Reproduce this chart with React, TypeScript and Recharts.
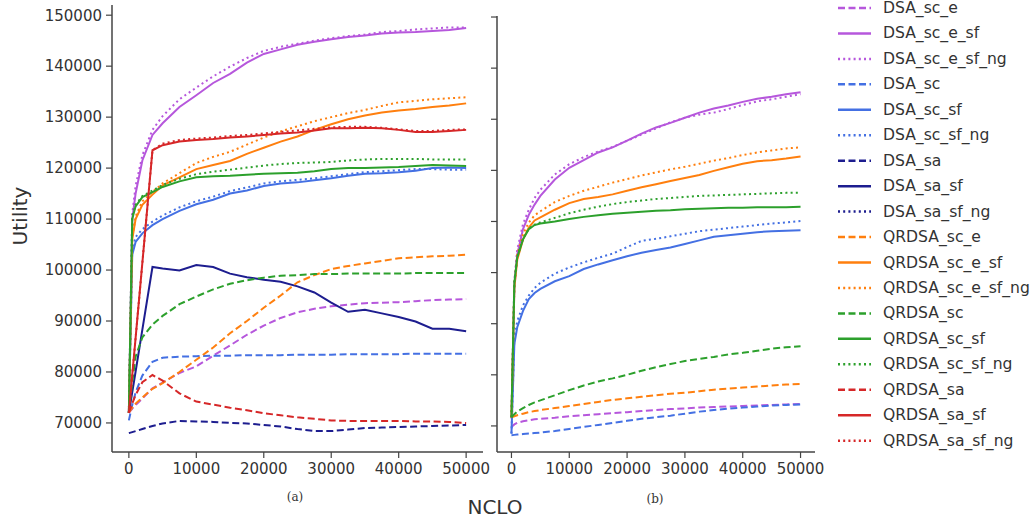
import React from 'react';
import { LineChart, Line, XAxis, YAxis } from 'recharts';

// legend / series names
const NAMES = [
  'DSA_sc_e', 'DSA_sc_e_sf', 'DSA_sc_e_sf_ng',
  'DSA_sc', 'DSA_sc_sf', 'DSA_sc_sf_ng',
  'DSA_sa', 'DSA_sa_sf', 'DSA_sa_sf_ng',
  'QRDSA_sc_e', 'QRDSA_sc_e_sf', 'QRDSA_sc_e_sf_ng',
  'QRDSA_sc', 'QRDSA_sc_sf', 'QRDSA_sc_sf_ng',
  'QRDSA_sa', 'QRDSA_sa_sf', 'QRDSA_sa_sf_ng',
];

const X_TICKS = [0, 10000, 20000, 30000, 40000, 50000];
const Y_TICKS = [70000, 80000, 90000, 100000, 110000, 120000, 130000, 140000, 150000];

// panel (a)
const tA = [0, 500, 1000, 2000, 3500, 5000, 7500, 10000, 12500, 15000, 17500, 20000, 22500, 25000, 27500, 30000, 32500, 35000, 37500, 40000, 42500, 45000, 47500, 50000];
const aScE = [72000, 72800, 73500, 74800, 76800, 77900, 79800, 81100, 83200, 85200, 87300, 89100, 90600, 91700, 92400, 92900, 93200, 93500, 93600, 93700, 93900, 94100, 94200, 94300];
const aScESf = [72000, 110000, 115000, 121500, 126500, 128800, 132000, 134300, 136700, 138500, 140700, 142400, 143300, 144200, 144800, 145300, 145700, 146000, 146400, 146600, 146700, 146900, 147100, 147500];
const aScESfNg = [72000, 111000, 116500, 122500, 127500, 130200, 133500, 135800, 138000, 139900, 141600, 143000, 143800, 144400, 145000, 145500, 145900, 146200, 146700, 146900, 147200, 147400, 147600, 147600];
const aSc = [70500, 73500, 76000, 79300, 82000, 82800, 83000, 83100, 83200, 83200, 83300, 83300, 83300, 83400, 83400, 83400, 83500, 83500, 83500, 83500, 83600, 83600, 83600, 83600];
const aScSf = [72000, 103000, 105500, 107200, 108800, 110000, 111600, 112900, 113800, 115000, 115600, 116500, 117000, 117200, 117600, 118000, 118500, 118900, 119000, 119200, 119500, 120000, 120100, 120000];
const aScSfNg = [72000, 104000, 106500, 108000, 109500, 110700, 112300, 113500, 114400, 115500, 116200, 117000, 117400, 117700, 118000, 118400, 118800, 119200, 119400, 119600, 119800, 119800, 119700, 119700];
const aSa = [68000, 68200, 68400, 68800, 69400, 69900, 70400, 70300, 70200, 70000, 69900, 69600, 69300, 68800, 68400, 68400, 68700, 69000, 69100, 69200, 69300, 69400, 69500, 69600];
const aSaSf = [72000, 76000, 80100, 88300, 100600, 100300, 99900, 101000, 100600, 99300, 98600, 98100, 97700, 96800, 95600, 93600, 91800, 92200, 91500, 90800, 89900, 88500, 88500, 88000];
const aQScE = [72000, 73000, 73800, 75000, 76700, 77800, 80000, 82400, 84800, 87600, 90000, 92600, 95000, 97600, 99000, 100200, 100800, 101300, 101800, 102300, 102500, 102700, 102800, 103000];
const aQScESf = [72000, 106000, 110000, 112800, 114800, 116600, 118200, 119800, 120600, 121400, 122800, 124000, 125200, 126200, 127500, 128600, 129600, 130300, 130900, 131300, 131600, 132000, 132300, 132700];
const aQScESfNg = [72000, 106500, 110500, 113500, 115300, 117000, 119000, 121000, 122200, 123200, 124600, 126000, 127200, 128200, 129200, 130000, 130800, 131400, 132200, 132900, 133200, 133500, 133700, 133900];
const aQSc = [72000, 78000, 83000, 86800, 89300, 91000, 93300, 94800, 96200, 97300, 98000, 98500, 98900, 99000, 99200, 99200, 99300, 99300, 99300, 99300, 99400, 99400, 99400, 99400];
const aQScSf = [72000, 110000, 112500, 114300, 115300, 116300, 117400, 118200, 118400, 118500, 118700, 118900, 119000, 119100, 119400, 119800, 120000, 120000, 120100, 120200, 120400, 120600, 120500, 120400];
const aQScSfNg = [72000, 110500, 112800, 114500, 115600, 116700, 117900, 118800, 119300, 119700, 120100, 120500, 120800, 121000, 121100, 121200, 121500, 121700, 121800, 121800, 121800, 121700, 121700, 121700];
const aQSa = [72000, 73800, 75500, 78000, 79400, 78300, 75800, 74200, 73600, 73000, 72500, 71900, 71500, 71100, 70800, 70500, 70400, 70400, 70400, 70400, 70300, 70300, 70200, 70000];
const aQSaSf = [72000, 79400, 86700, 101400, 123500, 124500, 125200, 125500, 125700, 126000, 126200, 126500, 126800, 127000, 127400, 127800, 127800, 127900, 127800, 127500, 127100, 127100, 127300, 127500];
const aQSaSfNg = [72000, 79400, 86700, 101400, 123500, 124800, 125500, 125800, 126000, 126300, 126500, 126800, 127100, 127400, 127700, 128000, 128100, 128100, 127900, 127600, 127300, 127300, 127500, 127600];

// panel (b)
const tB = [0, 500, 1000, 2000, 3000, 4000, 5000, 7500, 10000, 12500, 15000, 17500, 20000, 22500, 25000, 27500, 30000, 32500, 35000, 37500, 40000, 42500, 45000, 47500, 50000];
const bScE = [69800, 70300, 70600, 70900, 71100, 71300, 71400, 71600, 71900, 72100, 72300, 72500, 72700, 72900, 73100, 73300, 73400, 73600, 73700, 73800, 73900, 74000, 74100, 74200, 74300];
const bScESf = [71500, 97000, 103500, 108500, 111300, 113300, 115000, 118200, 120500, 122000, 123500, 124500, 125800, 127200, 128400, 129300, 130300, 131300, 132100, 132700, 133400, 134000, 134400, 134900, 135300];
const bScESfNg = [71500, 98500, 104500, 109500, 112300, 114600, 116200, 119200, 121200, 122600, 123700, 124600, 125800, 127000, 128200, 129400, 130300, 130900, 131300, 132000, 132800, 133500, 133900, 134400, 134900];
const bSc = [68200, 68250, 68300, 68400, 68500, 68600, 68700, 69000, 69400, 69800, 70200, 70600, 71000, 71400, 71700, 72000, 72400, 72800, 73100, 73400, 73600, 73800, 74000, 74100, 74200];
const bScSf = [68500, 86000, 89300, 92500, 94800, 96000, 96800, 98300, 99300, 100700, 101600, 102400, 103200, 103900, 104400, 104900, 105600, 106300, 107000, 107300, 107600, 107900, 108100, 108200, 108300];
const bScSfNg = [68500, 87000, 90500, 93600, 95500, 97000, 98000, 99800, 101000, 102000, 102900, 103700, 105000, 106200, 106600, 107100, 107600, 108100, 108400, 108700, 109000, 109300, 109600, 109800, 110100];
const bQScE = [71700, 71900, 72100, 72400, 72700, 72900, 73100, 73500, 73900, 74300, 74700, 75100, 75400, 75700, 76000, 76300, 76500, 76800, 77100, 77300, 77500, 77700, 77900, 78100, 78200];
const bQScESf = [71700, 97000, 102500, 106500, 108800, 110200, 110800, 112300, 113600, 114400, 114800, 115300, 116000, 116700, 117300, 117900, 118500, 119100, 119900, 120600, 121300, 121800, 122000, 122300, 122700];
const bQScESfNg = [71700, 97500, 103500, 107500, 109800, 111200, 112000, 113800, 115000, 116000, 116800, 117600, 118300, 119000, 119600, 120200, 120700, 121300, 121900, 122400, 123000, 123500, 123900, 124300, 124500];
const bQSc = [71700, 72300, 72800, 73500, 74100, 74600, 75000, 76000, 77000, 77900, 78700, 79300, 80000, 80800, 81500, 82100, 82700, 83100, 83500, 84000, 84300, 84700, 85100, 85400, 85600];
const bQScSf = [71700, 98000, 103000, 106500, 108500, 109300, 109600, 110000, 110500, 110900, 111200, 111500, 111700, 111900, 112100, 112200, 112400, 112500, 112600, 112700, 112700, 112800, 112800, 112800, 112900];
const bQScSfNg = [71700, 98000, 103000, 106700, 108600, 109400, 109800, 110700, 111600, 112300, 112900, 113400, 113800, 114100, 114400, 114600, 114800, 115000, 115100, 115200, 115300, 115400, 115500, 115600, 115600];

const PURPLE = '#b657dc';
const BLUE = '#4470e3';
const NAVY = '#1d1d8f';
const ORANGE = '#ff7f0e';
const GREEN = '#2ca02c';
const RED = '#d62728';

const COLOR: Record<string, string> = {
  DSA_sc_e: PURPLE, DSA_sc_e_sf: PURPLE, DSA_sc_e_sf_ng: PURPLE,
  DSA_sc: BLUE, DSA_sc_sf: BLUE, DSA_sc_sf_ng: BLUE,
  DSA_sa: NAVY, DSA_sa_sf: NAVY, DSA_sa_sf_ng: NAVY,
  QRDSA_sc_e: ORANGE, QRDSA_sc_e_sf: ORANGE, QRDSA_sc_e_sf_ng: ORANGE,
  QRDSA_sc: GREEN, QRDSA_sc_sf: GREEN, QRDSA_sc_sf_ng: GREEN,
  QRDSA_sa: RED, QRDSA_sa_sf: RED, QRDSA_sa_sf_ng: RED,
};

const dashFor = (name: string) =>
  name.endsWith('_ng') ? '2 3.2' : name.endsWith('_sf') ? undefined : '7 3.5';

const seriesA: [string, number[]][] = [
  ['DSA_sc_e', aScE], ['DSA_sc_e_sf', aScESf], ['DSA_sc_e_sf_ng', aScESfNg],
  ['DSA_sc', aSc], ['DSA_sc_sf', aScSf], ['DSA_sc_sf_ng', aScSfNg],
  ['DSA_sa', aSa], ['DSA_sa_sf', aSaSf],
  ['QRDSA_sc_e', aQScE], ['QRDSA_sc_e_sf', aQScESf], ['QRDSA_sc_e_sf_ng', aQScESfNg],
  ['QRDSA_sc', aQSc], ['QRDSA_sc_sf', aQScSf], ['QRDSA_sc_sf_ng', aQScSfNg],
  ['QRDSA_sa', aQSa], ['QRDSA_sa_sf', aQSaSf], ['QRDSA_sa_sf_ng', aQSaSfNg],
];

const seriesB: [string, number[]][] = [
  ['DSA_sc_e', bScE], ['DSA_sc_e_sf', bScESf], ['DSA_sc_e_sf_ng', bScESfNg],
  ['DSA_sc', bSc], ['DSA_sc_sf', bScSf], ['DSA_sc_sf_ng', bScSfNg],
  ['QRDSA_sc_e', bQScE], ['QRDSA_sc_e_sf', bQScESf], ['QRDSA_sc_e_sf_ng', bQScESfNg],
  ['QRDSA_sc', bQSc], ['QRDSA_sc_sf', bQScSf], ['QRDSA_sc_sf_ng', bQScSfNg],
];

const FONT = '"DejaVu Sans", sans-serif';
const AXIS = '#444';
const TEXT = '#333';

function toRows(t: number[], series: [string, number[]][]) {
  return t.map((x, i) => {
    const row: Record<string, number> = { t: x };
    series.forEach(([name, vals]) => { row[name] = vals[i]; });
    return row;
  });
}

type PanelProps = {
  left: number;
  width: number;
  top: number;
  right: number;
  yWidth: number;
  yDomain: [number, number];
  t: number[];
  series: [string, number[]][];
  showYLabels: boolean;
};

function Panel({ left, width, top, right, yWidth, yDomain, t, series, showYLabels }: PanelProps) {
  const data = toRows(t, series);
  return (
    <div style={{ position: 'absolute', left, top: 0 }}>
      <LineChart width={width} height={522} data={data} margin={{ top, right, bottom: 40, left: 0 }}>
        <XAxis
          type="number"
          dataKey="t"
          domain={[-2500, 52500]}
          ticks={X_TICKS}
          interval={0}
          height={30}
          allowDataOverflow
          axisLine={{ stroke: AXIS, strokeWidth: 1.5 }}
          tickLine={{ stroke: AXIS, strokeWidth: 1.2 }}
          tickSize={6}
          tickMargin={5}
          tick={{ fill: TEXT, fontSize: 15, fontFamily: FONT }}
        />
        <YAxis
          type="number"
          domain={yDomain}
          ticks={Y_TICKS}
          interval={0}
          width={yWidth}
          allowDataOverflow
          axisLine={{ stroke: AXIS, strokeWidth: 1.5 }}
          tickLine={{ stroke: AXIS, strokeWidth: 1.2 }}
          tickSize={6}
          tickMargin={4}
          tickFormatter={showYLabels ? (v: number) => String(v) : () => ''}
          tick={{ fill: TEXT, fontSize: 15, fontFamily: FONT }}
        />
        {series.map(([name]) => (
          <Line
            key={name}
            type="linear"
            dataKey={name}
            stroke={COLOR[name]}
            strokeWidth={2}
            strokeDasharray={dashFor(name)}
            dot={false}
            activeDot={false}
            isAnimationActive={false}
          />
        ))}
      </LineChart>
    </div>
  );
}

function Legend() {
  return (
    <>
      {NAMES.map((name, i) => {
        const y = 8 + i * 25.45;
        return (
          <g key={name}>
            <line x1={838} x2={871} y1={y} y2={y} stroke={COLOR[name]} strokeWidth={2.5} strokeDasharray={dashFor(name)} />
            <text x={883} y={y} dominantBaseline="central" fontSize={15.6} fontFamily={FONT} fill={TEXT}>{name}</text>
          </g>
        );
      })}
    </>
  );
}

export default function App() {
  return (
    <div style={{ position: 'absolute', left: 0, top: 0, width: 1034, height: 522, background: '#fff', overflow: 'hidden' }}>
      <Panel left={0} width={500} top={5} right={17} yWidth={112} yDomain={[64300, 152000]} t={tA} series={seriesA} showYLabels />
      <Panel left={400} width={430} top={16} right={15} yWidth={97} yDomain={[64900, 150200]} t={tB} series={seriesB} showYLabels={false} />
      <svg width={1034} height={522} style={{ position: 'absolute', left: 0, top: 0, pointerEvents: 'none' }}>
        <text x={20} y={216} transform="rotate(-90 20 216)" textAnchor="middle" dominantBaseline="central" fontSize={20} fontFamily={FONT} fill={TEXT}>Utility</text>
        <text x={495} y={507} textAnchor="middle" dominantBaseline="central" fontSize={20} fontFamily={FONT} fill={TEXT}>NCLO</text>
        <text x={295} y={497} textAnchor="middle" dominantBaseline="central" fontSize={12} fontFamily='"DejaVu Serif", serif' fill={TEXT}>(a)</text>
        <text x={655} y={499} textAnchor="middle" dominantBaseline="central" fontSize={12} fontFamily='"DejaVu Serif", serif' fill={TEXT}>(b)</text>
        <Legend />
      </svg>
    </div>
  );
}
